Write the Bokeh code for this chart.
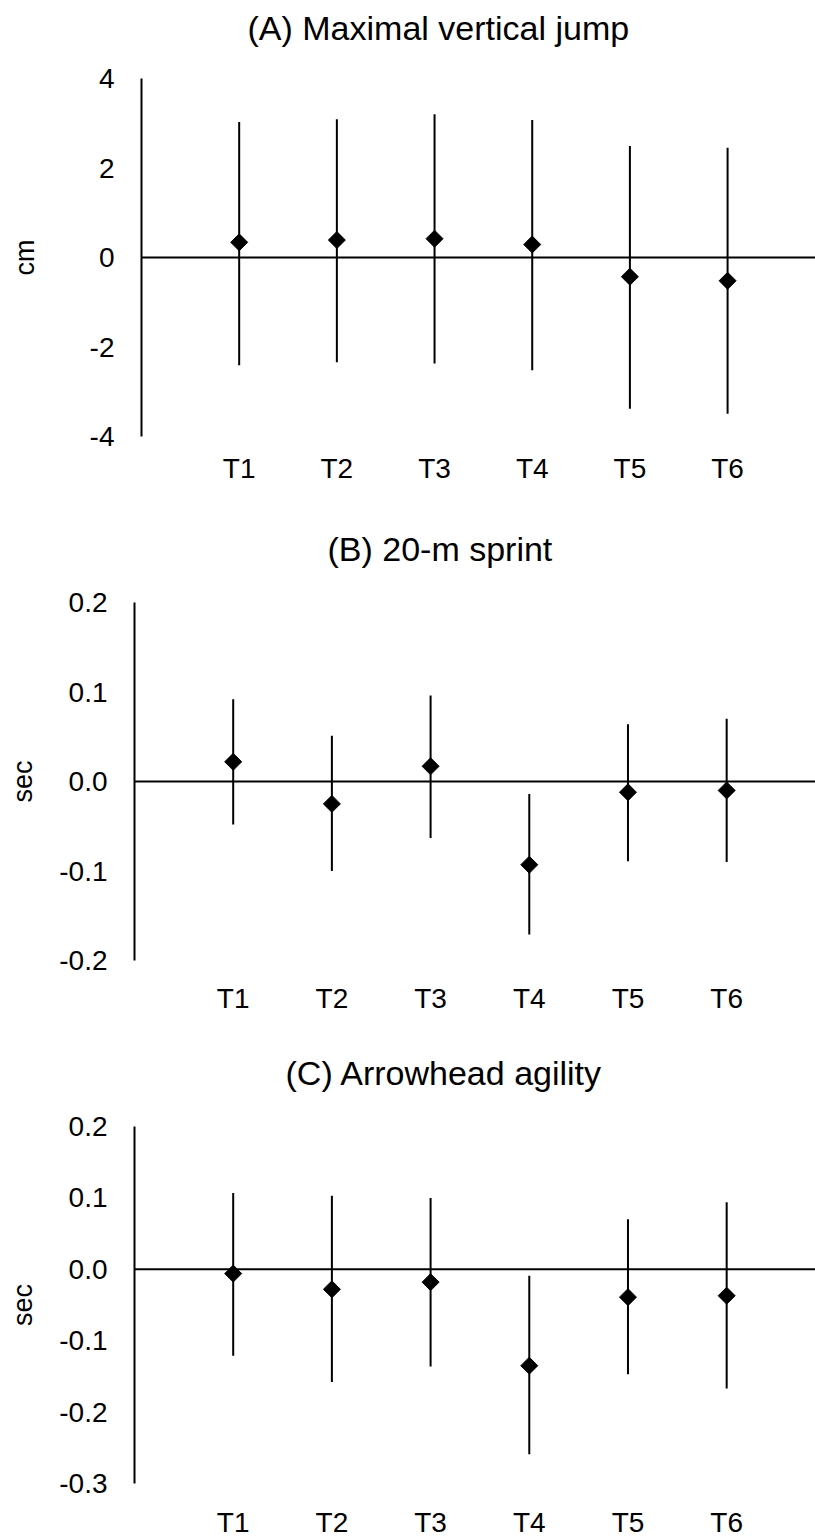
import math
from bokeh.plotting import figure
from bokeh.models import Range1d, FixedTicker, Span, PrintfTickFormatter, ColumnDataSource
from bokeh.embed import file_html
from bokeh.resources import INLINE

categories = ["T1", "T2", "T3", "T4", "T5", "T6"]

# (A) Maximal vertical jump (cm)
jump_mean = [0.34, 0.39, 0.42, 0.29, -0.43, -0.52]
jump_low = [-2.41, -2.34, -2.37, -2.52, -3.38, -3.49]
jump_high = [3.03, 3.09, 3.20, 3.07, 2.49, 2.45]
jump_ticks = [-4, -2, 0, 2, 4]

# (B) 20-m sprint (sec)
sprint_mean = [0.022, -0.025, 0.017, -0.093, -0.012, -0.010]
sprint_low = [-0.048, -0.100, -0.063, -0.171, -0.089, -0.090]
sprint_high = [0.092, 0.051, 0.096, -0.014, 0.064, 0.070]
sprint_ticks = [-0.2, -0.1, 0.0, 0.1, 0.2]

# (C) Arrowhead agility (sec)
agility_mean = [-0.006, -0.028, -0.018, -0.135, -0.039, -0.037]
agility_low = [-0.121, -0.158, -0.136, -0.259, -0.147, -0.167]
agility_high = [0.107, 0.103, 0.100, -0.009, 0.070, 0.094]
agility_ticks = [-0.3, -0.2, -0.1, 0.0, 0.1, 0.2]

FONT = "Liberation Sans, Arial, sans-serif"
xpos = [i + 1 for i in range(len(categories))]


def panel(title, ylabel, mean, low, high, ticks, fmt, height, b_top, b_bottom, b_left,
          title_offset, title_lh, xlab_standoff, ylab_standoff, xmax):
    p = figure(width=815, height=height, output_backend="svg", toolbar_location=None,
               x_range=Range1d(0, xmax), y_range=Range1d(min(ticks), max(ticks)),
               min_border_top=b_top, min_border_bottom=b_bottom,
               min_border_left=b_left, min_border_right=0, title=title + "\n")
    p.outline_line_color = None
    p.grid.visible = False
    p.background_fill_color = "white"
    p.border_fill_color = "white"

    p.title.text_font = FONT
    p.title.text_font_size = "34px"
    p.title.text_font_style = "normal"
    p.title.text_color = "black"
    p.title.align = "left"
    p.title.offset = title_offset
    p.title.standoff = 0
    p.title.text_line_height = title_lh

    xa = p.xaxis[0]
    xa.ticker = FixedTicker(ticks=xpos)
    xa.major_label_overrides = {x: c for x, c in zip(xpos, categories)}
    xa.axis_line_color = None
    xa.major_tick_line_color = None
    xa.minor_tick_line_color = None
    xa.major_tick_out = 0
    xa.major_label_standoff = xlab_standoff
    xa.major_label_text_font = FONT
    xa.major_label_text_font_size = "28px"
    xa.major_label_text_color = "black"

    ya = p.yaxis[0]
    ya.ticker = FixedTicker(ticks=ticks)
    ya.formatter = PrintfTickFormatter(format=fmt)
    ya.axis_line_color = "black"
    ya.axis_line_width = 2
    ya.major_tick_line_color = None
    ya.minor_tick_line_color = None
    ya.major_tick_out = 0
    ya.major_label_standoff = 27
    ya.major_label_text_font = FONT
    ya.major_label_text_font_size = "28px"
    ya.major_label_text_color = "black"
    ya.axis_label = ylabel
    ya.axis_label_text_font = FONT
    ya.axis_label_text_font_size = "27px"
    ya.axis_label_text_font_style = "normal"
    ya.axis_label_text_color = "black"
    ya.axis_label_standoff = ylab_standoff

    p.add_layout(Span(location=0, dimension="width", line_color="black", line_width=2))

    src = ColumnDataSource(dict(x=xpos, mean=mean, low=low, high=high))
    p.segment(x0="x", y0="low", x1="x", y1="high", source=src,
              line_color="black", line_width=2)
    p.scatter(x="x", y="mean", source=src, marker="square", angle=math.pi / 4,
              size=12, fill_color="black", line_color="black")
    return p


pa = panel("(A) Maximal vertical jump", "cm", jump_mean, jump_low, jump_high, jump_ticks, "%d",
           500, 78, 64, 141, 106, 0.82, 16, 47, 6.9)
pb = panel("(B) 20-m sprint", "sec", sprint_mean, sprint_low, sprint_high, sprint_ticks, "%.1f",
           520, 102, 60, 134, 193, 0.91, 22, 18, 6.9)
pc = panel("(C) Arrowhead agility", "sec", agility_mean, agility_low, agility_high, agility_ticks, "%.1f",
           520, 106, 55, 134, 151, 0.92, 23, 18, 6.9)

open("out.html", "w").write(file_html([pa, pb, pc], INLINE))
